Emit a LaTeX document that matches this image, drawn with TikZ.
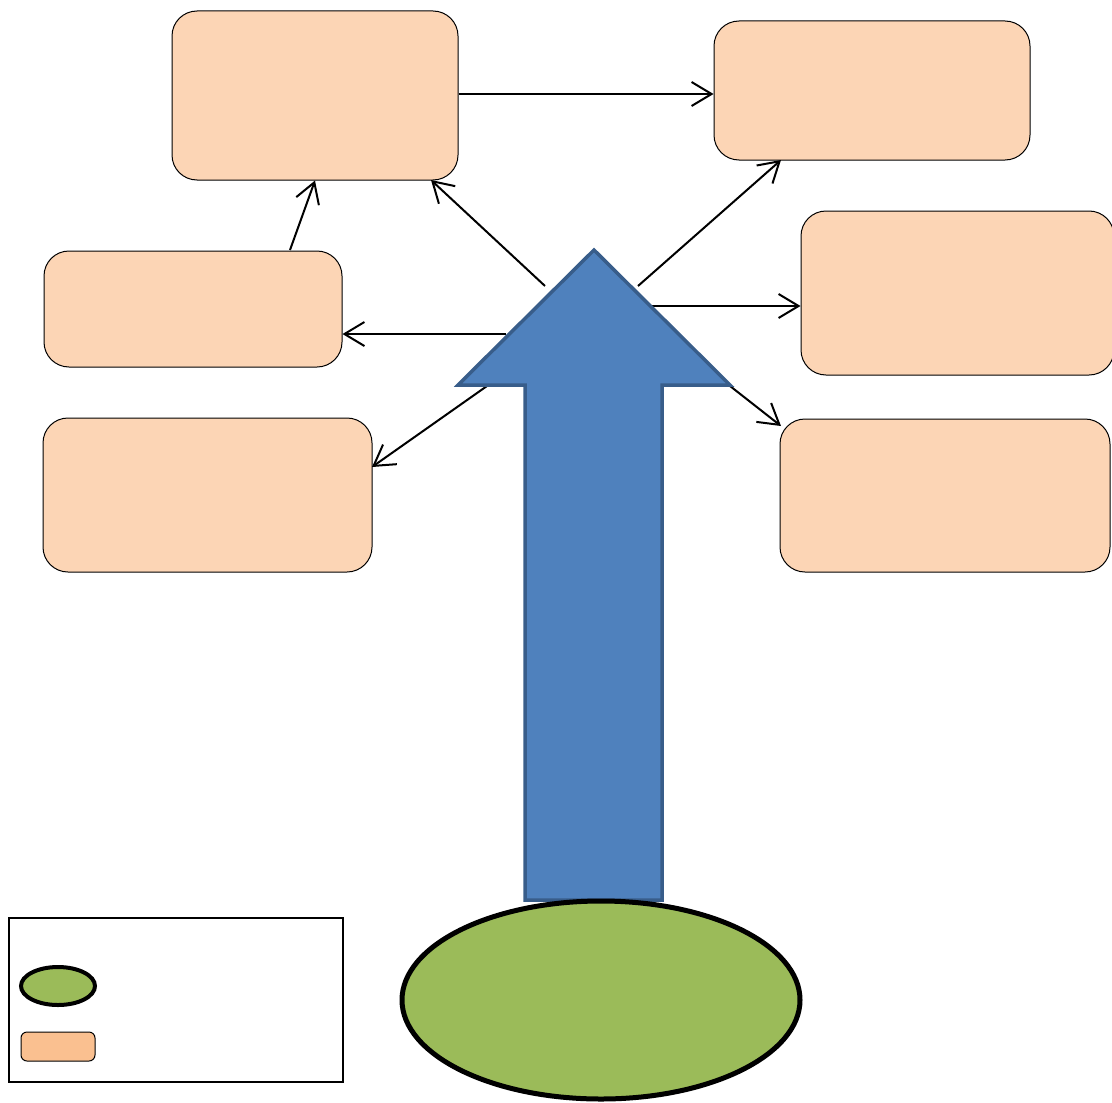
\documentclass[tikz,border=0pt]{standalone}
\usetikzlibrary{arrows.meta, shapes.geometric}
\definecolor{boxfill}{HTML}{FCD5B5}
\definecolor{keyfill}{HTML}{FAC090}
\definecolor{upfill}{HTML}{4F81BD}
\definecolor{upline}{HTML}{385D8A}
\definecolor{basefill}{HTML}{9BBB59}
\begin{document}
\begin{tikzpicture}[
    x=0.5pt, y=-0.5pt,
    factor/.style={draw, fill=boxfill, rounded corners=12.5pt, line width=0.5pt, inner sep=0pt},
    link/.style={line width=1pt, -{Straight Barb[length=10pt, width=12pt, line width=1pt]}},
    base/.style={draw, ellipse, fill=basefill, line width=2.5pt, inner sep=0pt}
]
    \useasboundingbox (0,0) rectangle (1112,1102);
    % Boxes round the arrow
    \node[factor, minimum width=143pt, minimum height=84.5pt] (A) at (315,95.5) {};
    \node[factor, minimum width=158pt, minimum height=69.5pt] (B) at (872,90.5) {};
    \node[factor, minimum width=156.5pt, minimum height=82pt] (C) at (957.5,293) {};
    \node[factor, minimum width=165pt, minimum height=76.5pt] (D) at (945,495.5) {};
    \node[factor, minimum width=149pt, minimum height=58pt] (E) at (193,309) {};
    \node[factor, minimum width=164.5pt, minimum height=77pt] (F) at (207.5,495) {};
    % Ends of the connectors
    \coordinate (e1) at (290,250);
    \coordinate (s2) at (545,286);
    \coordinate (a2) at (431,180);
    \coordinate (s3) at (638,286);
    \coordinate (b3) at (781,160);
    \coordinate (s4) at (652,306);
    \coordinate (s5) at (506,334);
    \coordinate (s6) at (487,386);
    \coordinate (f6) at (372,467);
    \coordinate (s7) at (730,386);
    \coordinate (d7) at (781,426);
    % Connectors
    \draw[link] (A.east |- 0,94) -- (B.west |- 0,94);
    \draw[link] (e1) -- (A.south);
    \draw[link] (s2) -- (a2);
    \draw[link] (s3) -- (b3);
    \draw[link] (s4) -- (C.west |- s4);
    \draw[link] (s5) -- (E.east |- s5);
    \draw[link] (s6) -- (f6);
    \draw[link] (s7) -- (d7);
    % Big arrow
    \draw[fill=upfill, draw=upline, line width=1.75pt, line join=miter]
        (594,250) -- (730,385) -- (662,385) -- (662,900) -- (525,900)
        -- (525,385) -- (458,385) -- cycle;
    \node[base, minimum width=199pt, minimum height=99pt] (G) at (601,1000) {};
    % Key
    \draw[line width=1pt] (9,918) rectangle (343,1082);
    \node[base, line width=2pt, minimum width=37pt, minimum height=19pt] (K1) at (58,986) {};
    \node[draw, fill=keyfill, rounded corners=3pt, line width=0.5pt, inner sep=0pt,
        minimum width=37pt, minimum height=14.5pt] (K2) at (58,1046.5) {};
\end{tikzpicture}
\end{document}
